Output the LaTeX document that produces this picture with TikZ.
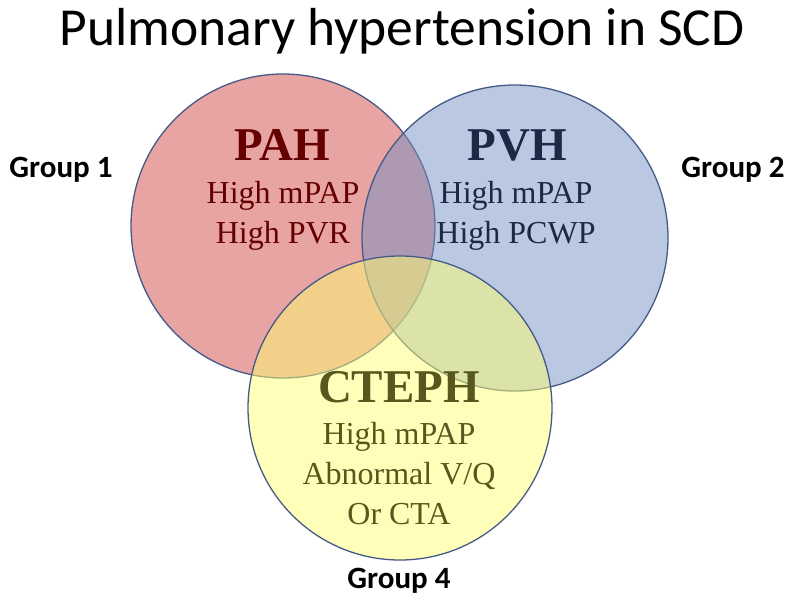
\documentclass[tikz,border=0pt]{standalone}
\usepackage{fontspec}
\setmainfont{Liberation Serif}
\newfontfamily\calibri{Carlito}
\usepackage{tikz}
\usetikzlibrary{positioning}
\definecolor{pahcolor}{RGB}{209, 71, 71}
\definecolor{pvhcolor}{RGB}{117, 145, 195}
\definecolor{ctephcolor}{RGB}{255, 255, 115}
\definecolor{rimcolor}{RGB}{70, 90, 135}
\definecolor{pahtext}{RGB}{100, 0, 0}
\definecolor{pvhtext}{RGB}{30, 40, 70}
\definecolor{ctephtext}{RGB}{88, 88, 30}

\begin{document}
\begin{tikzpicture}[
    x=1pt, y=-1pt,
    group/.style={circle, draw=rimcolor, line width=1.3pt, fill opacity=0.5, draw opacity=1, inner sep=0pt},
    heading/.style={font=\fontsize{47}{47}\selectfont\bfseries, anchor=base, inner sep=0pt},
    detail/.style={font=\fontsize{32}{40}\selectfont, align=center, anchor=base, inner sep=0pt},
    grouplabel/.style={font=\calibri\fontsize{31}{31}\selectfont\bfseries, anchor=base, inner sep=0pt},
]
\useasboundingbox (0,0) rectangle (792,598);

% Title
\node[font=\calibri\fontsize{53.5}{53.5}\selectfont, anchor=base, inner sep=0pt] (title) at (402, 45) {Pulmonary hypertension in SCD};

% Circles
\node[group, fill=pahcolor, minimum size=304pt] (pahcircle) at (283, 226) {};
\node[group, fill=pvhcolor, minimum size=306pt] (pvhcircle) at (515, 238) {};
\node[group, fill=ctephcolor, minimum size=304pt] (ctephcircle) at (400, 408) {};

% Group 1
\node[heading, text=pahtext] (pah) at (282, 160) {PAH};
\node[detail, text=pahtext] (pahinfo) at (283, 243) {High mPAP\\High PVR};

% Group 2
\node[heading, text=pvhtext] (pvh) at (517, 160) {PVH};
\node[detail, text=pvhtext] (pvhinfo) at (516, 243) {High mPAP\\High PCWP};

% Group 4
\node[heading, text=ctephtext] (cteph) at (399, 402) {CTEPH};
\node[detail, text=ctephtext] (ctephinfo) at (399, 524) {High mPAP\\Abnormal V/Q\\Or CTA};

% Group labels
\node[grouplabel] (group1) at (61, 177) {Group 1};
\node[grouplabel] (group2) at (733, 177) {Group 2};
\node[grouplabel] (group4) at (399, 588) {Group 4};

\end{tikzpicture}
\end{document}
